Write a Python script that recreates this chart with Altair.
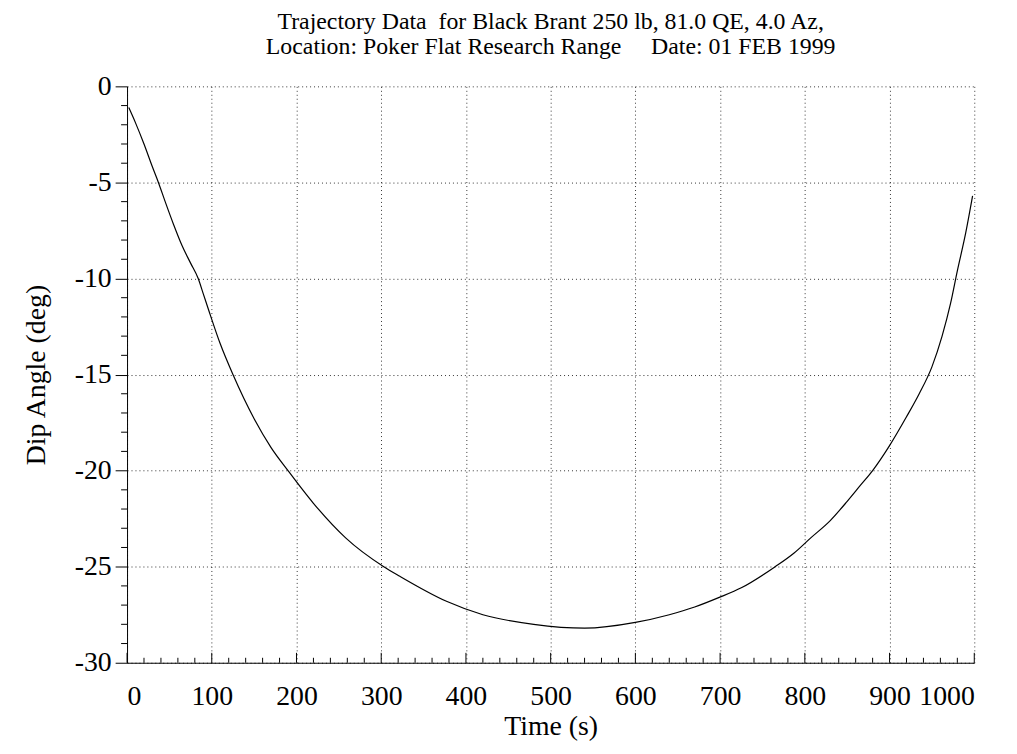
import altair as alt
import pandas as pd

# ---- data ----
time_s = [2, 10, 20, 30, 37, 45, 55, 65, 75, 84, 90, 96, 110, 125, 150, 170, 190,
          220, 258, 303, 322, 377, 420, 480, 540, 600, 640, 670, 699, 725, 765, 787,
          807, 830, 850, 865, 880, 900, 920, 935, 950, 962, 972, 980, 990, 998]
dip_deg = [-1.1, -1.9, -3.0, -4.2, -5.0, -6.0, -7.2, -8.3, -9.2, -10.0, -10.8, -11.6,
           -13.4, -15.0, -17.3, -18.8, -20.0, -21.7, -23.5, -25.0, -25.5, -26.8, -27.5,
           -28.0, -28.2, -27.9, -27.5, -27.1, -26.6, -26.1, -25.0, -24.3, -23.5, -22.6,
           -21.6, -20.8, -20.0, -18.7, -17.2, -16.0, -14.6, -13.0, -11.3, -9.6, -7.6, -5.7]

x_major = list(range(0, 1001, 100))
x_minor = [v for v in range(0, 1001, 20) if v % 100 != 0]
y_major = [0, -5, -10, -15, -20, -25, -30]
y_minor = [v for v in range(-30, 1) if v % 5 != 0]

title_lines = ["Trajectory Data\u00a0\u00a0for Black Brant 250 lb, 81.0 QE, 4.0 Az,",
               "Location: Poker Flat Research Range\u00a0\u00a0\u00a0\u00a0\u00a0Date: 01 FEB 1999"]

FONT = "Liberation Serif"
W, H = 854, 581

df = pd.DataFrame({"t": time_s, "dip": dip_deg})
xscale = alt.Scale(domain=[0, 1000], nice=False, zero=False)
yscale = alt.Scale(domain=[-30, 0], nice=False, zero=False)

curve = alt.Chart(df).mark_line(color="black", strokeWidth=1.2, interpolate="monotone").encode(
    x=alt.X("t:Q", scale=xscale,
            axis=alt.Axis(values=x_major, title="Time (s)", grid=True, gridDash=[1, 3],
                          gridColor="black", gridOpacity=0.8, domainColor="black",
                          ticks=False, labelPadding=20, titlePadding=2,
                          labelExpr="datum.value + ''")),
    y=alt.Y("dip:Q", scale=yscale,
            axis=alt.Axis(values=y_major, title="Dip Angle (deg)", grid=True, gridDash=[1, 3],
                          gridColor="black", gridOpacity=0.8, domainColor="black",
                          tickColor="black", tickSize=12, labelPadding=4, titlePadding=24,
                          labelExpr="datum.value + ''")),
)

xmin_df = pd.DataFrame({"v": x_minor})
xmaj_df = pd.DataFrame({"v": x_major})
ymin_df = pd.DataFrame({"v": y_minor})

x_minor_ticks = alt.Chart(xmin_df).mark_rule(color="black", strokeWidth=1).encode(
    x=alt.X("v:Q", scale=xscale, title="Time (s)"), y=alt.value(H), y2=alt.value(H - 5))
x_major_ticks = alt.Chart(xmaj_df).mark_rule(color="black", strokeWidth=1).encode(
    x=alt.X("v:Q", scale=xscale, title="Time (s)"), y=alt.value(H), y2=alt.value(H - 10))
y_minor_ticks = alt.Chart(ymin_df).mark_rule(color="black", strokeWidth=1).encode(
    y=alt.Y("v:Q", scale=yscale, title="Dip Angle (deg)"), x=alt.value(-6), x2=alt.value(0))

chart = alt.layer(curve, x_minor_ticks, x_major_ticks, y_minor_ticks).properties(
    width=W, height=H,
    title=alt.TitleParams(text=title_lines, font=FONT, fontSize=24, fontWeight="normal",
                          color="black", anchor="middle", offset=14, lineHeight=25),
    padding={"left": 120, "top": 76, "right": 35, "bottom": 89},
    autosize=alt.AutoSizeParams(type="none"),
).configure_view(stroke=None).configure_axis(
    labelFont=FONT, titleFont=FONT, labelFontSize=28, titleFontSize=28,
    titleFontWeight="normal", labelColor="black", titleColor="black",
)

chart.save("out.html", embed_options={"renderer": "svg", "actions": False})
